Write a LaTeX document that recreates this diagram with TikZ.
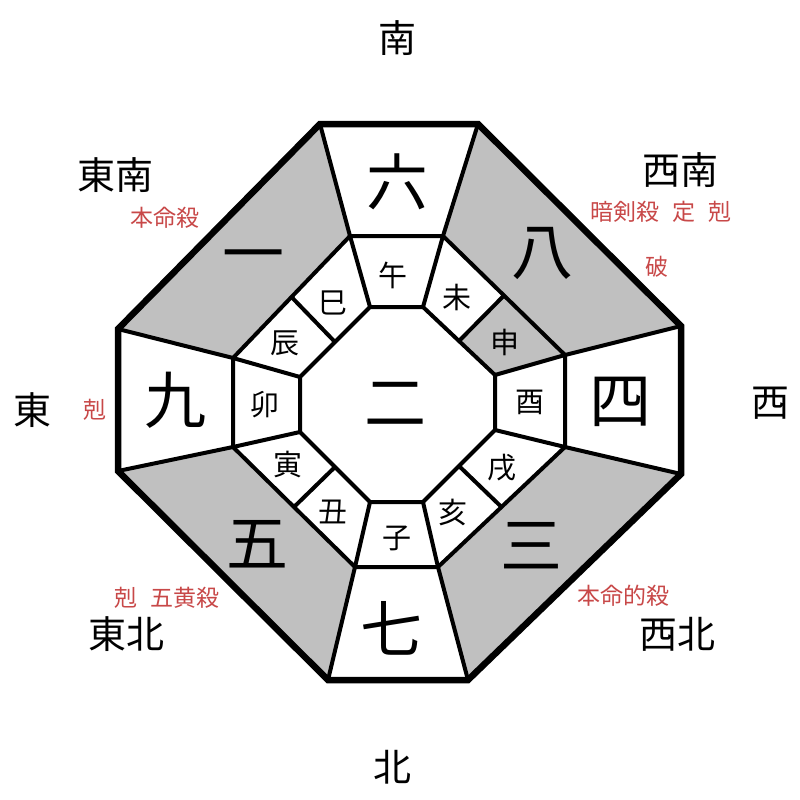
\documentclass[tikz,border=0pt]{standalone}
\usepackage{fontspec}
\setmainfont{Noto Sans CJK JP}
\usetikzlibrary{calc}
\definecolor{kbGray}{HTML}{C0C0C0}
\definecolor{kbRed}{HTML}{C84848}

\begin{document}
\begin{tikzpicture}[
  x=1pt, y=-1pt,
  wall/.style={line width=4pt, line join=miter, draw=black},
  rim/.style={line width=6.5pt, line join=miter, draw=black},
  dir/.style={font=\fontsize{38}{38}\selectfont, inner sep=0pt},
  note/.style={font=\fontsize{23}{23}\selectfont, text=kbRed, inner sep=0pt},
  star/.style={font=\fontsize{62}{62}\selectfont, inner sep=0pt},
  branch/.style={font=\fontsize{29}{29}\selectfont, inner sep=0pt}
]
\fill[white] (0,0) rectangle (800,800);
\useasboundingbox (0,0) rectangle (800,800);

% outer, middle and inner octagons
\coordinate (O1) at (320,124); \coordinate (O2) at (478,124);
\coordinate (O3) at (681,326); \coordinate (O4) at (681,474);
\coordinate (O5) at (468,680); \coordinate (O6) at (328,680);
\coordinate (O7) at (118,471); \coordinate (O8) at (118,329);

\coordinate (M1) at (350,236); \coordinate (M2) at (443,236);
\coordinate (M3) at (565,355); \coordinate (M4) at (565,447);
\coordinate (M5) at (438,567); \coordinate (M6) at (355,567);
\coordinate (M7) at (233,447); \coordinate (M8) at (233,358);

\coordinate (I1) at (370,307); \coordinate (I2) at (423,307);
\coordinate (I3) at (495,375); \coordinate (I4) at (495,430);
\coordinate (I5) at (423,502); \coordinate (I6) at (370,502);
\coordinate (I7) at (300,432); \coordinate (I8) at (300,377);

\coordinate (neIn) at ($(I2)!0.5!(I3)$); \coordinate (neOut) at ($(M2)!0.5!(M3)$);
\coordinate (seIn) at ($(I4)!0.5!(I5)$); \coordinate (seOut) at ($(M4)!0.5!(M5)$);
\coordinate (swIn) at ($(I6)!0.5!(I7)$); \coordinate (swOut) at ($(M6)!0.5!(M7)$);
\coordinate (nwIn) at ($(I8)!0.5!(I1)$); \coordinate (nwOut) at ($(M8)!0.5!(M1)$);

% shaded cells
\fill[kbGray] (O1) -- (M1) -- (M8) -- (O8) -- cycle;
\fill[kbGray] (O2) -- (O3) -- (M3) -- (M2) -- cycle;
\fill[kbGray] (O4) -- (O5) -- (M5) -- (M4) -- cycle;
\fill[kbGray] (O6) -- (O7) -- (M7) -- (M6) -- cycle;
\fill[kbGray] (neIn) -- (I3) -- (M3) -- (neOut) -- cycle;

\foreach \k in {1,...,8} {
  \draw[wall] (O\k) -- (M\k) -- (I\k);
}
\draw[wall] (neIn) -- (neOut);
\draw[wall] (seIn) -- (seOut);
\draw[wall] (swIn) -- (swOut);
\draw[wall] (nwIn) -- (nwOut);
\draw[wall] (M1) -- (M2) -- (M3) -- (M4) -- (M5) -- (M6) -- (M7) -- (M8) -- cycle;
\draw[wall] (I1) -- (I2) -- (I3) -- (I4) -- (I5) -- (I6) -- (I7) -- (I8) -- cycle;
\draw[rim] (O1) -- (O2) -- (O3) -- (O4) -- (O5) -- (O6) -- (O7) -- (O8) -- cycle;

% stars
\node[star] (s6) at (397,182) {六};
\node[star] (s8) at (542,253) {八};
\node[star] (s1) at (253,263) {一};
\node[star] (s9) at (175,400) {九};
\node[star] (s2) at (395,404) {二};
\node[star] (s4) at (620,402) {四};
\node[star] (s5) at (257,544) {五};
\node[star] (s3) at (531,546) {三};
\node[star] (s7) at (391,628) {七};

% branches
\node[branch] (uma) at (393,275) {午};
\node[branch] (hitsuji) at (457,297) {未};
\node[branch] (saru) at (505,342) {申};
\node[branch] (tori) at (530,402) {酉};
\node[branch] (inu) at (502,468) {戌};
\node[branch] (i) at (453,512) {亥};
\node[branch] (ne) at (397,538) {子};
\node[branch] (ushi) at (333,512) {丑};
\node[branch] (tora) at (288,465) {寅};
\node[branch] (u) at (265,405) {卯};
\node[branch] (tatsu) at (285,343) {辰};
\node[branch] (mi) at (333,303) {巳};

% directions
\node[dir] (south) at (397,38) {南};
\node[dir] (southeast) at (115,175) {東南};
\node[dir] (southwest) at (680,170) {西南};
\node[dir] (east) at (32,410) {東};
\node[dir] (west) at (770,403) {西};
\node[dir] (northeast) at (126,634) {東北};
\node[dir] (northwest) at (677,634) {西北};
\node[dir] (north) at (392,767) {北};

% notes
\node[note] (nSE) at (165,218) {本命殺};
\node[note] (nSW) at (661,212) {暗剣殺\hspace{0.55em}定\hspace{0.55em}剋};
\node[note] (nSW2) at (657,267) {破};
\node[note] (nE) at (95,410) {剋};
\node[note] (nNE) at (167,598) {剋\hspace{0.55em}五黄殺};
\node[note] (nNW) at (623,596) {本命的殺};
\end{tikzpicture}
\end{document}
